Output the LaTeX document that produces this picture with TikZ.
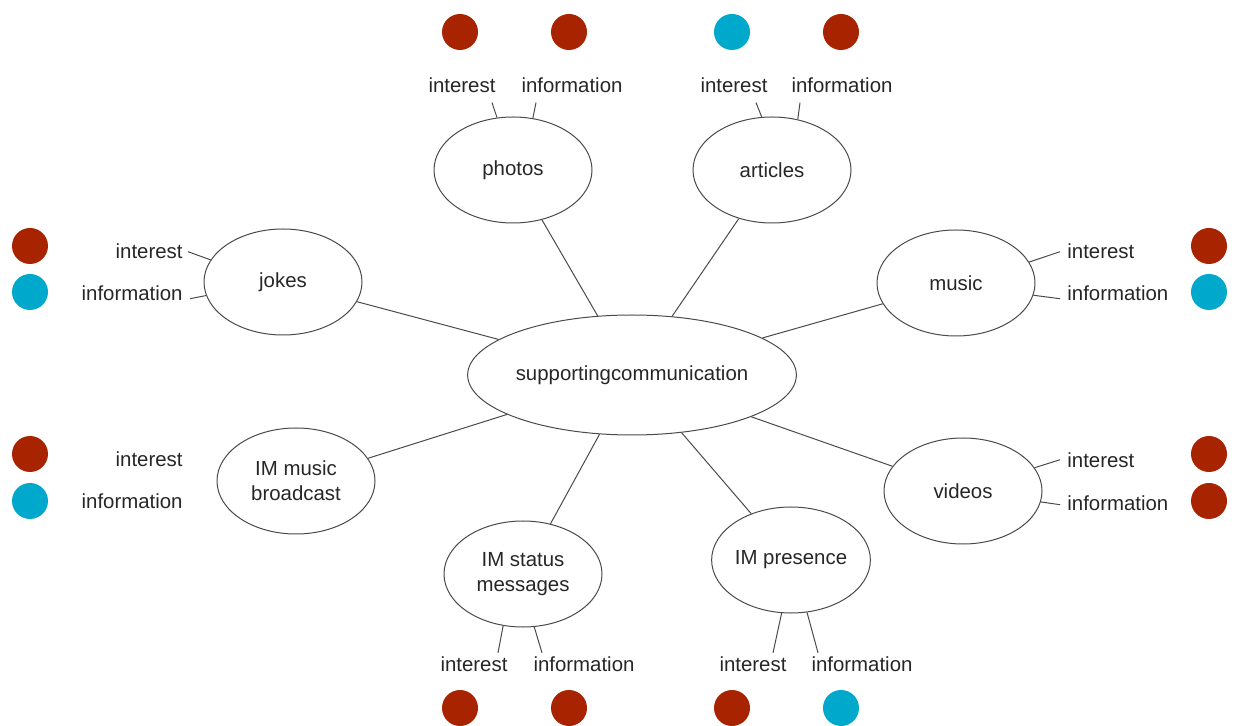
\documentclass[tikz,border=0pt]{standalone}
\usepackage{fontspec}
\setmainfont{Liberation Sans}
\usetikzlibrary{shapes.geometric}
\definecolor{dotred}{HTML}{A82300}
\definecolor{dotcyan}{HTML}{00A9CC}
\definecolor{inkgray}{HTML}{4A4A4A}
\tikzset{
	topic/.style={ellipse, draw=inkgray, line width=0.5pt, inner sep=0pt, text=black!85,
		minimum width=79pt, minimum height=53pt, align=center},
	tag/.style={inner sep=0pt, text=black!85},
	dot/.style={circle, inner sep=0pt, minimum size=18pt},
	stub/.style={draw=inkgray, line width=0.5pt}
}
\begin{document}
\begin{tikzpicture}[x=0.5pt, y=-0.5pt, font=\fontsize{10.2}{12.5}\selectfont]
	\useasboundingbox (0,0) rectangle (1236,726);
	% hub and topics
	\node [topic, minimum width=160pt, minimum height=60pt] (hub) at (632,375) {supportingcommunication};
	\node [topic] (photos) at (513,170) {photos};
	\node [topic] (articles) at (772,170) {articles};
	\node [topic] (jokes) at (283,282) {jokes};
	\node [topic] (music) at (956,283) {music};
	\node [topic] (immusic) at (296,481) {IM music\\broadcast};
	\node [topic] (videos) at (963,491) {videos};
	\node [topic] (imstatus) at (523,574) {IM status\\messages};
	\node [topic] (impresence) at (791,560) {IM presence};
	\draw [stub] (hub) -- (photos);
	\draw [stub] (hub) -- (articles);
	\draw [stub] (hub) -- (jokes);
	\draw [stub] (hub) -- (music);
	\draw [stub] (hub) -- (immusic);
	\draw [stub] (hub) -- (videos);
	\draw [stub] (hub) -- (imstatus);
	\draw [stub] (hub) -- (impresence);
	% top tags
	\node [tag, anchor=base] (photosint) at (462,93) {interest};
	\node [tag, anchor=base] (photosinf) at (572,93) {information};
	\node [tag, anchor=base] (articlesint) at (734,93) {interest};
	\node [tag, anchor=base] (articlesinf) at (842,93) {information};
	\draw [stub] (photos.107) -- ([shift={(15pt,-4.5pt)}]photosint.south);
	\draw [stub] (photos.69) -- ([shift={(-18pt,-4.5pt)}]photosinf.south);
	\draw [stub] (articles.101) -- ([shift={(11pt,-4.5pt)}]articlesint.south);
	\draw [stub] (articles.63) -- ([shift={(-21pt,-4.5pt)}]articlesinf.south);
	% left tags
	\node [tag, anchor=base east] (jokesint) at (183,259) {interest};
	\node [tag, anchor=base east] (jokesinf) at (183,301) {information};
	\node [tag, anchor=base east] (immusicint) at (183,467) {interest};
	\node [tag, anchor=base east] (immusicinf) at (183,509) {information};
	\draw [stub] (jokes.163) -- ([shift={(2.5pt,0pt)}]jokesint.east);
	\draw [stub] (jokes.190) -- ([shift={(3.5pt,-2.5pt)}]jokesinf.east);
	% right tags
	\node [tag, anchor=base west] (musicint) at (1067,259) {interest};
	\node [tag, anchor=base west] (musicinf) at (1067,301) {information};
	\node [tag, anchor=base west] (videosint) at (1067,468) {interest};
	\node [tag, anchor=base west] (videosinf) at (1067,510) {information};
	\draw [stub] (music.16) -- ([shift={(-3.5pt,0pt)}]musicint.west);
	\draw [stub] (music.-9) -- ([shift={(-3.5pt,-2.5pt)}]musicinf.west);
	\draw [stub] (videos.18) -- ([shift={(-3.5pt,0.5pt)}]videosint.west);
	\draw [stub] (videos.-8) -- ([shift={(-3.5pt,-1pt)}]videosinf.west);
	% bottom tags
	\node [tag, anchor=base] (imstatusint) at (474,671) {interest};
	\node [tag, anchor=base] (imstatusinf) at (584,671) {information};
	\node [tag, anchor=base] (impresenceint) at (753,671) {interest};
	\node [tag, anchor=base] (impresenceinf) at (862,671) {information};
	\draw [stub] (imstatus.249) -- ([shift={(12pt,1.5pt)}]imstatusint.north);
	\draw [stub] (imstatus.282) -- ([shift={(-21pt,1.5pt)}]imstatusinf.north);
	\draw [stub] (impresence.260) -- ([shift={(10pt,1.5pt)}]impresenceint.north);
	\draw [stub] (impresence.287) -- ([shift={(-22pt,1.5pt)}]impresenceinf.north);
	% dots
	\node [dot, fill=dotred] (photosdotint) at (460,32) {};
	\node [dot, fill=dotred] (photosdotinf) at (569,32) {};
	\node [dot, fill=dotcyan] (articlesdotint) at (732,32) {};
	\node [dot, fill=dotred] (articlesdotinf) at (841,32) {};
	\node [dot, fill=dotred] (jokesdotint) at (30,246) {};
	\node [dot, fill=dotcyan] (jokesdotinf) at (30,292) {};
	\node [dot, fill=dotred] (immusicdotint) at (30,454) {};
	\node [dot, fill=dotcyan] (immusicdotinf) at (30,501) {};
	\node [dot, fill=dotred] (musicdotint) at (1209,246) {};
	\node [dot, fill=dotcyan] (musicdotinf) at (1209,292) {};
	\node [dot, fill=dotred] (videosdotint) at (1209,454) {};
	\node [dot, fill=dotred] (videosdotinf) at (1209,501) {};
	\node [dot, fill=dotred] (imstatusdotint) at (460,708) {};
	\node [dot, fill=dotred] (imstatusdotinf) at (569,708) {};
	\node [dot, fill=dotred] (impresencedotint) at (732,708) {};
	\node [dot, fill=dotcyan] (impresencedotinf) at (841,708) {};
\end{tikzpicture}
\end{document}
